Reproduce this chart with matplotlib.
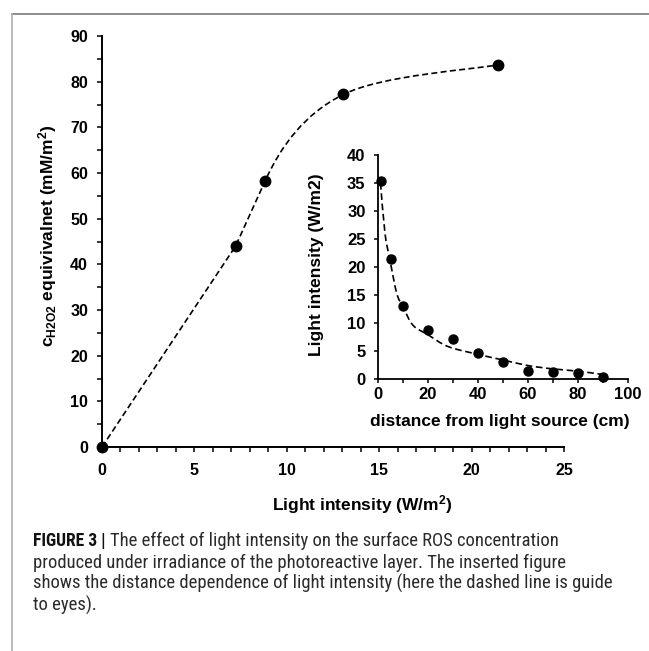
import matplotlib
matplotlib.use('Agg')
import matplotlib.pyplot as plt
from matplotlib import font_manager as fm
from matplotlib.font_manager import FontProperties
from matplotlib.path import Path
from matplotlib.patches import PathPatch
from matplotlib.lines import Line2D
import numpy as np

# ---------------- data ----------------
main_x = [0, 7.23, 8.82, 13.06, 21.44]
main_y = [0, 44.0, 58.2, 77.2, 83.7]

inset_x = [1, 5, 10, 20, 30, 40, 50, 60, 70, 80, 90]
inset_y = [35.4, 21.4, 13.0, 8.7, 7.1, 4.6, 3.0, 1.4, 1.2, 1.0, 0.4]

# dashed guide line of the inset
guide_x = [1, 2.8, 4.8, 7.5, 10, 14, 20, 28, 40, 50, 60, 70, 80, 90]
guide_y = [35, 26, 21.2, 15.3, 12.9, 9.6, 7.9, 5.8, 4.4, 3.4, 2.4, 1.8, 1.4, 0.8]

main_xticks = [0, 5, 10, 15, 20, 25]
main_yticks = [0, 10, 20, 30, 40, 50, 60, 70, 80, 90]
inset_xticks = [0, 20, 40, 60, 80, 100]
inset_yticks = [0, 5, 10, 15, 20, 25, 30, 35, 40]

caption_bold = "FIGURE 3 |"
caption_lines = [
    "The effect of light intensity on the surface ROS concentration",
    "produced under irradiance of the photoreactive layer. The inserted figure",
    "shows the distance dependence of light intensity (here the dashed line is guide",
    "to eyes).",
]

# ---------------- style ----------------
plt.rcParams['font.family'] = ['Liberation Sans', 'DejaVu Sans']
plt.rcParams['font.weight'] = 'bold'
plt.rcParams['mathtext.fontset'] = 'custom'
plt.rcParams['mathtext.rm'] = 'Liberation Sans:bold'
plt.rcParams['mathtext.bf'] = 'Liberation Sans:bold'
plt.rcParams['mathtext.it'] = 'Liberation Sans:bold:italic'
plt.rcParams['mathtext.sf'] = 'Liberation Sans:bold'


def smooth_path(xs, ys, n_straight=0, lead=0.55):
    """Cardinal (Catmull-Rom) smoothing through the points; the first
    n_straight segments are drawn straight and the next one leaves along
    the last straight direction."""
    P = np.column_stack([xs, ys]).astype(float)
    n = len(P)
    verts = [P[0]]
    codes = [Path.MOVETO]
    for i in range(n - 1):
        p1 = P[i]
        p2 = P[i + 1]
        if i < n_straight:
            verts.append(p2)
            codes.append(Path.LINETO)
            continue
        p3 = P[i + 2] if i + 2 < n else P[i + 1]
        if n_straight and i == n_straight:
            c1 = p1 + (p1 - P[i - 1]) * lead
        else:
            p0 = P[i - 1] if i > 0 else P[i]
            c1 = p1 + (p2 - p0) / 6.0
        c2 = p2 - (p3 - p1) / 6.0
        verts += [c1, c2, p2]
        codes += [Path.CURVE4] * 3
    return Path(verts, codes)


W, H = 649, 651
fig = plt.figure(figsize=(W / 100, H / 100), dpi=100)


def rect(l, t, r, b):
    return [l / W, 1 - b / H, (r - l) / W, (b - t) / H]


# ---------------- main axes ----------------
ax = fig.add_axes(rect(102, 36, 564, 447))
ax.set_facecolor('none')
ax.set_xlim(0, 25)
ax.set_ylim(0, 90)
for s in ['top', 'right']:
    ax.spines[s].set_visible(False)
for s in ['left', 'bottom']:
    ax.spines[s].set_linewidth(1.4)
ax.set_xticks(main_xticks)
ax.set_xticks(np.arange(0, 26, 1), minor=True)
ax.set_yticks(main_yticks)
ax.set_yticks(np.arange(0, 91, 5), minor=True)
ax.tick_params(which='both', direction='out', length=3.6, width=1.1, labelsize=11.5)
ax.tick_params(axis='y', which='both', pad=6.5)
ax.tick_params(axis='x', which='both', pad=8)

ax.add_patch(PathPatch(smooth_path(main_x, main_y, n_straight=2), fill=False,
                       edgecolor='black', lw=1.2, ls=(0, (3.6, 2.0)), zorder=3))
ax.plot(main_x, main_y, 'o', color='black', ms=7.5, clip_on=False, zorder=5)

ax.set_xlabel(r"Light intensity (W/m$^{\mathrm{2}}$)", fontsize=12.5, fontweight='bold')
ax.xaxis.set_label_coords(0.563, -0.141)
ax.xaxis.label.set_va('center')
ax.set_ylabel(r"c$_{\mathrm{H2O2}}$ equivivalnet (mM/m$^{\mathrm{2}}$)", fontsize=12.5,
              fontweight='bold')
ax.yaxis.set_label_coords(-0.117, 0.513)
ax.yaxis.label.set_va('center')

# ---------------- inset axes ----------------
ia = fig.add_axes(rect(378, 155, 628, 379))
ia.set_facecolor('none')
ia.set_xlim(0, 100)
ia.set_ylim(0, 40)
for s in ['top', 'right']:
    ia.spines[s].set_visible(False)
for s in ['left', 'bottom']:
    ia.spines[s].set_linewidth(1.3)
ia.set_xticks(inset_xticks)
ia.set_xticks(np.arange(0, 101, 10), minor=True)
ia.set_yticks(inset_yticks)
ia.tick_params(which='both', direction='out', length=3.0, width=1.1, labelsize=12)
ia.tick_params(axis='y', pad=6)
ia.tick_params(axis='x', pad=2.5)

ia.add_patch(PathPatch(smooth_path(guide_x, guide_y), fill=False, edgecolor='black',
                       lw=1.2, ls=(0, (4.0, 2.2)), zorder=3))
ia.plot(inset_x, inset_y, 'o', color='black', ms=6.5, clip_on=False, zorder=5)

ia.set_xlabel("distance from light source (cm)", fontsize=12.5, fontweight='bold')
ia.xaxis.set_label_coords(0.488, -0.19)
ia.xaxis.label.set_va('center')
ia.set_ylabel("Light intensity (W/m2)", fontsize=12.5, fontweight='bold')
ia.yaxis.set_label_coords(-0.245, 0.51)
ia.yaxis.label.set_va('center')

# ---------------- frame lines ----------------
fig.add_artist(Line2D([12 / W, 1.0], [1 - 14 / H, 1 - 14 / H], transform=fig.transFigure,
                      color='#858585', lw=1.3))
fig.add_artist(Line2D([12 / W, 12 / W], [1 - 14 / H, 0.0], transform=fig.transFigure,
                      color='#b4b4b4', lw=1.3))

# ---------------- caption ----------------
def wnum(w):
    return w if isinstance(w, (int, float)) else fm.weight_dict.get(w, 400)


def pick(entries, target):
    best = None
    for f in entries:
        if f.style != 'normal':
            continue
        d = abs(wnum(f.weight) - target)
        if best is None or d < best[0]:
            best = (d, f.fname, wnum(f.weight))
    return best


groups = [
    lambda f: f.name == 'Liberation Sans Narrow',
    lambda f: f.name == 'Roboto Condensed' or (f.name == 'Roboto' and 'condensed' in str(f.stretch)),
    lambda f: f.name == 'Open Sans Condensed' or (f.name == 'Open Sans' and 'condensed' in str(f.stretch)),
    lambda f: f.name == 'DejaVu Sans Condensed' or (f.name == 'DejaVu Sans' and 'condensed' in str(f.stretch)),
]
reg_file = bold_file = None
for g in groups:
    ents = [f for f in fm.fontManager.ttflist if g(f)]
    if not ents:
        continue
    r = pick(ents, 400)
    b = pick(ents, 700)
    if r is not None:
        reg_file = r[1]
        bold_file = b[1] if (b is not None and b[2] >= 600) else None
        break


def cap_fp(bold, size):
    if bold:
        if bold_file:
            return FontProperties(fname=bold_file, size=size)
        if reg_file:
            return FontProperties(fname=reg_file, size=size, weight='bold')
        return FontProperties(family='Liberation Sans', weight='bold', size=size)
    if reg_file:
        return FontProperties(fname=reg_file, size=size)
    return FontProperties(family='Liberation Sans', weight='normal', size=size)


baselines = [546, 567.5, 589, 610.5]
x0 = 33
x_after_bold = 110
targets = [577 - x_after_bold, 582 - x0, 585 - x0]
fig.canvas.draw()
rend = fig.canvas.get_renderer()


def text_width(s, fp):
    t = fig.text(0, 0, s, fontproperties=fp)
    w = t.get_window_extent(rend).width
    t.remove()
    return w


base = 12.7
tot = sum(text_width(s, cap_fp(False, base)) for s in caption_lines[:3])
cap_size = base * sum(targets) / tot
bold_size = base * 73.0 / text_width(caption_bold, cap_fp(True, base))
bold_size = min(bold_size, cap_size * 1.02)

fig.text(x0 / W, 1 - baselines[0] / H, caption_bold,
         fontproperties=cap_fp(True, bold_size), va='baseline', color='#111111')
fig.text(x_after_bold / W, 1 - baselines[0] / H, caption_lines[0],
         fontproperties=cap_fp(False, cap_size), va='baseline', color='#2a2a2a')
for line, bl in zip(caption_lines[1:], baselines[1:]):
    fig.text(x0 / W, 1 - bl / H, line, fontproperties=cap_fp(False, cap_size),
             va='baseline', color='#2a2a2a')

fig.savefig('out.png', dpi=100)
